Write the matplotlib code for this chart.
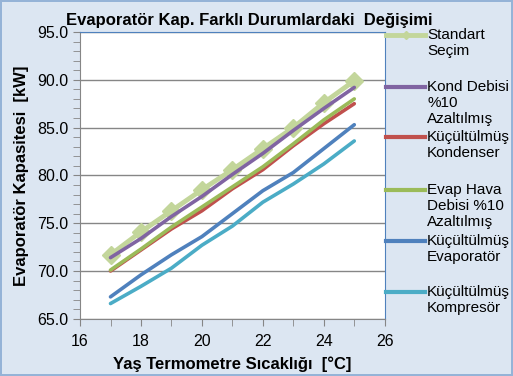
import matplotlib
matplotlib.use('Agg')
import matplotlib.pyplot as plt
from matplotlib.lines import Line2D
from matplotlib.ticker import MultipleLocator

plt.rcParams['font.family'] = ['Liberation Sans', 'DejaVu Sans']

# data
temps = [17, 18, 19, 20, 21, 22, 23, 24, 25]
standart = [71.7, 74.1, 76.3, 78.5, 80.6, 82.8, 85.0, 87.6, 89.9]
kond_debi = [71.4, 73.4, 75.7, 77.8, 80.1, 82.3, 84.7, 87.0, 89.2]
kucuk_kond = [70.0, 72.2, 74.4, 76.3, 78.6, 80.6, 83.1, 85.4, 87.5]
evap_debi = [70.1, 72.3, 74.6, 76.7, 78.8, 80.9, 83.3, 85.8, 88.0]
kucuk_evap = [67.3, 69.6, 71.7, 73.6, 76.0, 78.4, 80.3, 82.8, 85.3]
kucuk_komp = [66.6, 68.4, 70.3, 72.7, 74.7, 77.2, 79.1, 81.2, 83.6]

labels = ['Standart\nSeçim', 'Kond Debisi\n%10\nAzaltılmış', 'Küçültülmüş\nKondenser',
          'Evap Hava\nDebisi %10\nAzaltılmış', 'Küçültülmüş\nEvaporatör', 'Küçültülmüş\nKompresör']
colors = ['#c3d69b', '#8064a2', '#c0504d', '#9bbb59', '#4f81bd', '#4bacc6']
series = [standart, kond_debi, kucuk_kond, evap_debi, kucuk_evap, kucuk_komp]

bg = '#dce6f2'
fig = plt.figure(figsize=(5.13, 3.76), dpi=100, facecolor=bg)
fig.patch.set_edgecolor('#95b3d7')
fig.patch.set_linewidth(1.5)
ax = fig.add_axes([0.156, 0.152, 0.594, 0.763])

for i, (vals, c) in enumerate(zip(series, colors)):
    if i == 0:
        ax.plot(temps, vals, color=c, lw=3.5, marker='D', markersize=9, zorder=2)
    else:
        ax.plot(temps, vals, color=c, lw=2.6, zorder=3 + i, solid_capstyle='round')

ax.set_xlim(16, 26)
ax.set_ylim(65, 95)
ax.xaxis.set_major_locator(MultipleLocator(2))
ax.xaxis.set_minor_locator(MultipleLocator(1))
ax.yaxis.set_major_locator(MultipleLocator(5))
ax.yaxis.set_minor_locator(MultipleLocator(1))
ax.yaxis.set_major_formatter(matplotlib.ticker.FormatStrFormatter('%.1f'))
ax.grid(axis='y', which='major', color='#868686', lw=1)
ax.set_axisbelow(True)
ax.tick_params(which='both', direction='out', length=5, color='#868686', labelsize=11.5)
ax.tick_params(axis='x', pad=6)
for s in ['left', 'bottom']:
    ax.spines[s].set_color('#868686')
for s in ['top', 'right']:
    ax.spines[s].set_color('#4f81bd')

ax.set_title('Evaporatör Kap. Farklı Durumlardaki  Değişimi', fontsize=12,
             fontweight='bold', pad=5, x=0.554)
ax.set_xlabel('Yaş Termometre Sıcaklığı  [°C]', fontsize=12, fontweight='bold', labelpad=5)
ax.set_ylabel('Evaporatör Kapasitesi  [kW]', fontsize=12, fontweight='bold', labelpad=6)

# legend drawn by hand so each handle sits on the first text line
ys = [35, 87, 137, 190, 241, 292]
for i, (lab, c, y) in enumerate(zip(labels, colors, ys)):
    fy = 1 - y / 376
    if i == 0:
        fig.add_artist(Line2D([386 / 513, 425 / 513], [fy, fy], color=c, lw=3.5))
        fig.add_artist(Line2D([405.5 / 513], [fy], color=c, marker='D', markersize=4))
    else:
        fig.add_artist(Line2D([386 / 513, 425 / 513], [fy, fy], color=c, lw=3))
    fig.text(427 / 513, fy + 7 / 376, lab, fontsize=11, va='top', ha='left', linespacing=1.2)

fig.savefig('out.png', dpi=100, facecolor=bg, edgecolor=fig.get_edgecolor())
